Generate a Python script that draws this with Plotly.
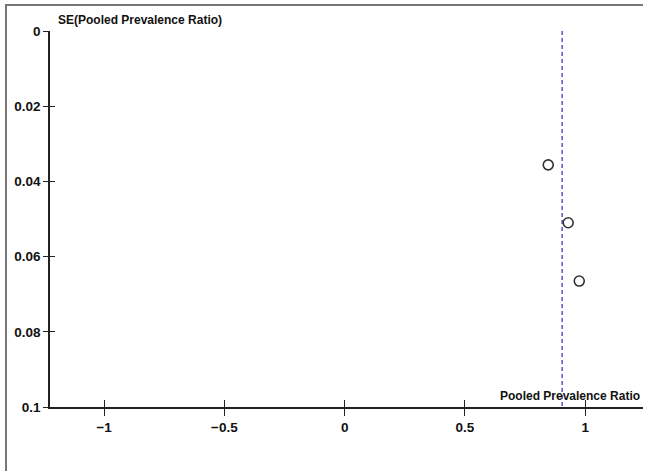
import plotly.graph_objects as go

# Data
prevalence_ratio = [0.846, 0.929, 0.975]
se_values = [0.0356, 0.051, 0.0665]
pooled_ratio = 0.904
x_tickvals = [-1, -0.5, 0, 0.5, 1]
x_ticktext = ["\u22121", "\u22120.5", "0", "0.5", "1"]
y_tickvals = [0, 0.02, 0.04, 0.06, 0.08, 0.1]
y_ticktext = ["0", "0.02", "0.04", "0.06", "0.08", "0.1"]

FONT = "Liberation Sans"
XR = [-1.225, 1.24]
YR = [0.1, 0]

fig = go.Figure()

fig.add_trace(go.Scatter(
    x=[pooled_ratio, pooled_ratio], y=[0, 0.1], mode="lines",
    line=dict(color="#5f5fcc", width=1.6, dash="4px,3px"),
    hoverinfo="skip", showlegend=False,
))
fig.add_trace(go.Scatter(
    x=prevalence_ratio, y=se_values, mode="markers",
    marker=dict(symbol="circle-open", size=10, color="#333333", line=dict(width=1.6, color="#333333")),
    showlegend=False,
))
# invisible trace for secondary (inside tick) axes
fig.add_trace(go.Scatter(x=[0], y=[0.05], xaxis="x2", yaxis="y2", mode="markers",
                         marker=dict(opacity=0), hoverinfo="skip", showlegend=False))

tickfont = dict(family=FONT, size=13.5, color="#111111", weight="bold")

fig.update_layout(
    width=647, height=472,
    margin=dict(l=50, r=4, t=31, b=65),
    paper_bgcolor="white", plot_bgcolor="white",
    xaxis=dict(range=XR, tickvals=x_tickvals, ticktext=x_ticktext,
               showgrid=False, zeroline=False, showline=True, linecolor="#222222", linewidth=1.5,
               ticks="outside", ticklen=7, tickwidth=1.2, tickcolor="#222222",
               tickfont=tickfont, anchor="y"),
    yaxis=dict(range=YR, tickvals=y_tickvals, ticktext=y_ticktext,
               showgrid=False, zeroline=False, showline=True, linecolor="#222222", linewidth=1.5,
               ticks="outside", ticklen=5, tickwidth=1.2, tickcolor="#222222",
               tickfont=tickfont, anchor="x"),
    xaxis2=dict(range=XR, tickvals=x_tickvals, overlaying="x", showticklabels=False,
                showgrid=False, zeroline=False, showline=False,
                ticks="inside", ticklen=7, tickwidth=1.2, tickcolor="#222222", anchor="y2"),
    yaxis2=dict(range=YR, tickvals=y_tickvals, overlaying="y", showticklabels=False,
                showgrid=False, zeroline=False, showline=False,
                ticks="inside", ticklen=5, tickwidth=1.2, tickcolor="#222222", anchor="x2"),
    annotations=[
        dict(text="SE(Pooled Prevalence Ratio)", xref="paper", yref="paper",
             x=0.010, y=1, xanchor="left", yanchor="bottom", yshift=2, showarrow=False,
             font=dict(family=FONT, size=12, color="#111111", weight="bold")),
        dict(text="Pooled Prevalence Ratio", xref="paper", yref="paper",
             x=1, y=0, xanchor="right", yanchor="bottom", yshift=2, xshift=-1, showarrow=False,
             font=dict(family=FONT, size=12, color="#111111", weight="bold")),
    ],
    shapes=[
        dict(type="line", xref="paper", yref="paper", x0=-45/593, x1=1, y0=1 + 26/376, y1=1 + 26/376,
             line=dict(color="#777777", width=2)),
        dict(type="line", xref="paper", yref="paper", x0=-44/593, x1=-44/593, y0=1 + 26/376, y1=-64/376,
             line=dict(color="#777777", width=2)),
    ],
)

fig.write_html("out.html", config={"displayModeBar": False},
               post_script="document.body.style.margin='0';document.body.style.overflow='hidden';")
